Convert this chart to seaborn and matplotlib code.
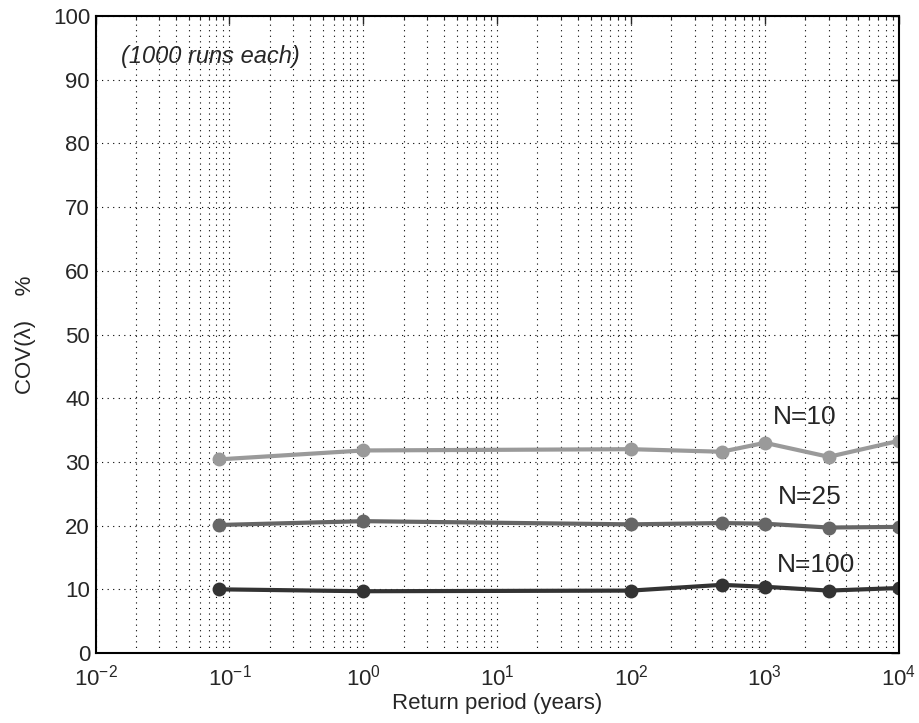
import numpy as np
import pandas as pd
import matplotlib
matplotlib.use('Agg')
import matplotlib.pyplot as plt
import seaborn as sns

# Return periods (years) and COV values (%)
return_period = [1 / 12, 1, 100, 475, 1000, 3000, 10000]
cov_n10 = [30.4, 31.8, 32.0, 31.6, 33.0, 30.8, 33.3]
cov_n25 = [20.1, 20.7, 20.2, 20.4, 20.3, 19.7, 19.8]
cov_n100 = [10.0, 9.7, 9.8, 10.7, 10.4, 9.8, 10.2]
series_names = ['N=10', 'N=25', 'N=100']
series_colors = ['#9a9a9a', '#666666', '#333333']

data = pd.DataFrame({
    'period': return_period * 3,
    'cov': cov_n10 + cov_n25 + cov_n100,
    'N': np.repeat(series_names, len(return_period)),
})

sns.set_style('white')
plt.rcParams['font.family'] = ['Liberation Sans', 'DejaVu Sans']
plt.rcParams['mathtext.fontset'] = 'custom'
plt.rcParams['mathtext.rm'] = 'Liberation Sans'

fig = plt.figure(figsize=(9.19, 7.23), dpi=100)
ax = fig.add_axes([0.104, 0.0968, 0.874, 0.881])

sns.lineplot(data=data, x='period', y='cov', hue='N', hue_order=series_names,
             palette=series_colors, marker='o', markersize=10, markeredgewidth=0,
             linewidth=3, legend=False, ax=ax)

ax.set_xscale('log')
ax.set_xlim(1e-2, 1e4)
ax.set_ylim(0, 100)
ax.set_yticks(np.arange(0, 101, 10))
ax.set_xticks([1e-2, 1e-1, 1e0, 1e1, 1e2, 1e3, 1e4])

# MATLAB-like dotted grid
ax.grid(True, which='major', linestyle=(0, (1, 4)), color='black', linewidth=0.8)
ax.grid(True, which='minor', axis='x', linestyle=(0, (1, 4)), color='black', linewidth=0.8)
ax.tick_params(which='both', direction='in', top=True, right=True, labelsize=16)
ax.tick_params(which='major', length=6, width=1)
ax.tick_params(which='minor', length=3, width=0.8)
ax.tick_params(axis='x', which='major', pad=8)
ax.tick_params(axis='y', which='major', pad=4)
for s in ax.spines.values():
    s.set_linewidth(1.5)
    s.set_color('black')

ax.set_xlabel('Return period (years)', fontsize=16, labelpad=2)
ax.set_ylabel('COV(λ)    %', fontsize=16, labelpad=12)

ax.text(0.0154, 93.7, '(1000 runs each)', fontsize=17, style='italic', va='center')
ax.text(1150, 37.1, 'N=10', fontsize=19, va='center')
ax.text(1250, 24.5, 'N=25', fontsize=19, va='center')
ax.text(1230, 13.8, 'N=100', fontsize=19, va='center')

plt.savefig('out.png', dpi=100)
